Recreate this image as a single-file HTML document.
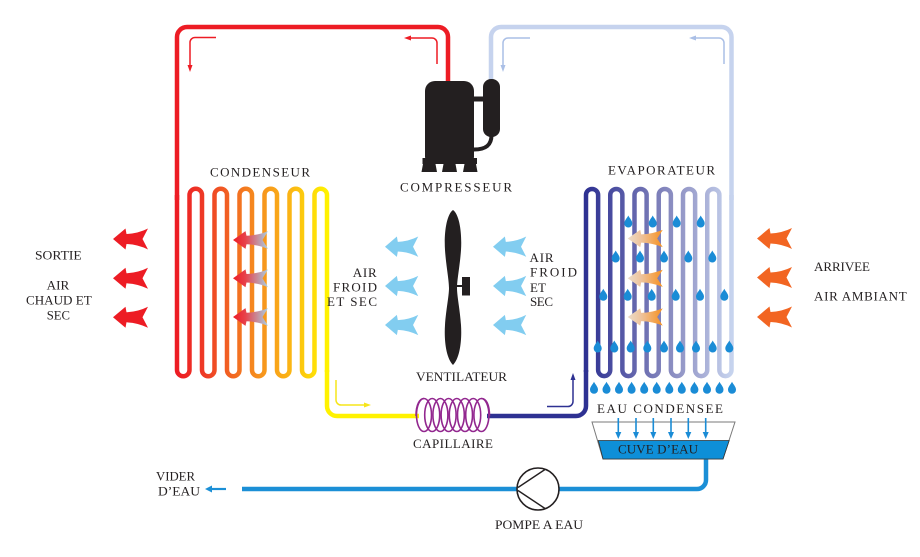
<!DOCTYPE html>
<html>
<head>
<meta charset="utf-8">
<style>
html,body{margin:0;padding:0;background:#fff;}
svg{display:block;}
</style>
</head>
<body>
<svg xmlns="http://www.w3.org/2000/svg" width="920" height="557" viewBox="0 0 920 557" font-family="'Liberation Serif', 'Times New Roman', serif" font-size="13" fill="#231f20">
<defs>
  <linearGradient id="condG" gradientUnits="userSpaceOnUse" x1="177" y1="0" x2="327" y2="0">
    <stop offset="0" stop-color="#ed1c24"/>
    <stop offset="0.18" stop-color="#ee3b26"/>
    <stop offset="0.36" stop-color="#f26522"/>
    <stop offset="0.55" stop-color="#f6921e"/>
    <stop offset="0.75" stop-color="#fbb415"/>
    <stop offset="1" stop-color="#fff200"/>
  </linearGradient>
  <linearGradient id="evapG" gradientUnits="userSpaceOnUse" x1="586" y1="0" x2="731.5" y2="0">
    <stop offset="0" stop-color="#2e3192"/>
    <stop offset="0.2" stop-color="#4d50a2"/>
    <stop offset="0.4" stop-color="#6e70b2"/>
    <stop offset="0.6" stop-color="#8c8fc2"/>
    <stop offset="0.8" stop-color="#a8aed6"/>
    <stop offset="1" stop-color="#c6d3ee"/>
  </linearGradient>
  <linearGradient id="hotArrow" x1="0" y1="0" x2="1" y2="0">
    <stop offset="0" stop-color="#ed1c24"/>
    <stop offset="0.35" stop-color="#e8414a"/>
    <stop offset="1" stop-color="#a9cfe0"/>
  </linearGradient>
  <linearGradient id="warmArrow" x1="0" y1="0" x2="1" y2="0">
    <stop offset="0" stop-color="#ecdcca"/>
    <stop offset="0.4" stop-color="#eec29a"/>
    <stop offset="1" stop-color="#f7901e"/>
  </linearGradient>
  <path id="arr" d="M0,0 L12.5,-10.5 L13.5,-5 Q25,-5.5 35,-10.5 L29.5,0 L35,10.5 Q25,5.5 13.5,5 L12.5,10.5 Z"/>
  <path id="drop" d="M0,-6.5 C1.5,-3.5 4,-1.5 4,1.5 A4,4 0 1 1 -4,1.5 C-4,-1.5 -1.5,-3.5 0,-6.5 Z"/>
</defs>

<!-- Red hot pipe (top-left loop) -->
<path d="M448,83 V37 A10,10 0 0 0 438,27 H187 A10,10 0 0 0 177,37 V200" fill="none" stroke="#ed1c24" stroke-width="4.5"/>
<!-- Light blue pipe (top-right loop) -->
<path d="M491,80 V37 A10,10 0 0 1 501,27 H721.5 A10,10 0 0 1 731.5,37 V200" fill="none" stroke="#c6d3ee" stroke-width="4.5"/>

<!-- Condenser serpentine -->
<path d="M177,195 V370 A6.25,6.25 0 0 0 189.5,370 V195 A6.25,6.25 0 0 1 202,195 V370 A6.25,6.25 0 0 0 214.5,370 V195 A6.25,6.25 0 0 1 227,195 V370 A6.25,6.25 0 0 0 239.5,370 V195 A6.25,6.25 0 0 1 252,195 V370 A6.25,6.25 0 0 0 264.5,370 V195 A6.25,6.25 0 0 1 277,195 V370 A6.25,6.25 0 0 0 289.5,370 V195 A6.25,6.25 0 0 1 302,195 V370 A6.25,6.25 0 0 0 314.5,370 V195 A6.25,6.25 0 0 1 327,195 V372" fill="none" stroke="url(#condG)" stroke-width="4.5"/>
<!-- Yellow pipe to capillary -->
<path d="M327,370 V406 A10,10 0 0 0 337,416 H419" fill="none" stroke="#fff200" stroke-width="4.5"/>

<!-- Evaporator serpentine -->
<path d="M586,372 V195 A6.0625,6.0625 0 0 1 598.125,195 V370 A6.0625,6.0625 0 0 0 610.25,370 V195 A6.0625,6.0625 0 0 1 622.375,195 V370 A6.0625,6.0625 0 0 0 634.5,370 V195 A6.0625,6.0625 0 0 1 646.625,195 V370 A6.0625,6.0625 0 0 0 658.75,370 V195 A6.0625,6.0625 0 0 1 670.875,195 V370 A6.0625,6.0625 0 0 0 683,370 V195 A6.0625,6.0625 0 0 1 695.125,195 V370 A6.0625,6.0625 0 0 0 707.25,370 V195 A6.0625,6.0625 0 0 1 719.375,195 V370 A6.0625,6.0625 0 0 0 731.5,370 V195" fill="none" stroke="url(#evapG)" stroke-width="4.5"/>
<!-- Navy pipe from capillary -->
<path d="M487,416 H576 A10,10 0 0 0 586,406 V370" fill="none" stroke="#2e3192" stroke-width="4.5"/>

<!-- Capillary coil -->
<g fill="none" stroke="#92278f" stroke-width="1.6">
  <path d="M416,416 C416,404 420,398.5 424,398.5"/>
  <ellipse cx="424" cy="415" rx="7.5" ry="16.5"/>
  <ellipse cx="432.2" cy="415" rx="7.5" ry="16.5"/>
  <ellipse cx="440.4" cy="415" rx="7.5" ry="16.5"/>
  <ellipse cx="448.6" cy="415" rx="7.5" ry="16.5"/>
  <ellipse cx="456.8" cy="415" rx="7.5" ry="16.5"/>
  <ellipse cx="465" cy="415" rx="7.5" ry="16.5"/>
  <ellipse cx="473.2" cy="415" rx="7.5" ry="16.5"/>
  <ellipse cx="481.4" cy="415" rx="7.5" ry="16.5"/>
  <path d="M481.4,398.5 C486,398.5 489.5,404 489.5,416"/>
</g>

<!-- Small flow arrows -->
<g fill="none" stroke-width="1.5">
  <path d="M216,37.5 H195 A5,5 0 0 0 190,42.5 V66" stroke="#ed1c24"/>
  <path d="M437,64 V43 A5,5 0 0 0 432,38 H411" stroke="#ed1c24"/>
  <path d="M530,38 H508 A5,5 0 0 0 503,43 V66" stroke="#aabfe6"/>
  <path d="M724,64 V43 A5,5 0 0 0 719,38 H696" stroke="#aabfe6"/>
  <path d="M336,380 V400 A5,5 0 0 0 341,405 H364" stroke="#f6e51a"/>
  <path d="M547,406.5 H568 A5,5 0 0 0 573,401.5 V380" stroke="#2e3192"/>
</g>
<polygon points="187.5,65 192.5,65 190,72" fill="#ed1c24"/>
<polygon points="411,35.5 411,40.5 404,38" fill="#ed1c24"/>
<polygon points="500.5,65 505.5,65 503,72" fill="#aabfe6"/>
<polygon points="696,35.5 696,40.5 689,38" fill="#aabfe6"/>
<polygon points="364,402.5 364,407.5 371,405" fill="#f6e51a"/>
<polygon points="570.5,380 575.5,380 573,373" fill="#2e3192"/>

<!-- Compressor -->
<g fill="#231f20">
  <path d="M425,91 A10,10 0 0 1 435,81 H464 A10,10 0 0 1 474,91 V157 A3,3 0 0 1 471,160 H428 A3,3 0 0 1 425,157 Z"/>
  <rect x="422.5" y="158" width="54.5" height="6"/>
  <polygon points="423,164 435.5,164 437,172 421.5,172"/>
  <polygon points="443.5,164 455.5,164 457,172 442,172"/>
  <polygon points="464.5,164 476,164 477.5,172 463,172"/>
  <rect x="483" y="79" width="17" height="58" rx="8" ry="8"/>
  <rect x="473" y="96.5" width="11" height="5"/>
</g>
<path d="M491.5,135 C491.5,145 486,149.5 474,149.5" fill="none" stroke="#231f20" stroke-width="4"/>

<!-- Fan -->
<path d="M453,210 C460,215 462,235 461,250 C460,265 457,280 457,288 C457,296 460,310 461,325 C462,340 460,358 453,365 C446,358 444,340 445,325 C446,310 449,296 449,288 C449,280 446,265 445,250 C444,235 446,215 453,210 Z" fill="#231f20"/>
<line x1="456" y1="286" x2="463" y2="286" stroke="#231f20" stroke-width="2"/>
<rect x="462" y="277" width="8" height="18.5" fill="#231f20"/>

<!-- Outside red arrows -->
<g fill="#ed1c24">
  <use href="#arr" transform="translate(113,239)"/>
  <use href="#arr" transform="translate(113,278.3)"/>
  <use href="#arr" transform="translate(113,317.3)"/>
</g>
<!-- Outside orange arrows -->
<g fill="#f26522">
  <use href="#arr" transform="translate(757,238.5)"/>
  <use href="#arr" transform="translate(757,277.5)"/>
  <use href="#arr" transform="translate(757,317)"/>
</g>
<!-- Fan light blue arrows -->
<g fill="#82cdf0">
  <use href="#arr" transform="translate(385,246.7) scale(0.95,0.97)"/>
  <use href="#arr" transform="translate(385,286) scale(0.95,0.97)"/>
  <use href="#arr" transform="translate(385,325) scale(0.95,0.97)"/>
  <use href="#arr" transform="translate(493,246.7) scale(0.95,0.97)"/>
  <use href="#arr" transform="translate(493,286) scale(0.95,0.97)"/>
  <use href="#arr" transform="translate(493,325) scale(0.95,0.97)"/>
</g>
<!-- Condenser gradient arrows -->
<g fill="url(#hotArrow)">
  <use href="#arr" transform="translate(233,240) scale(1,0.85)"/>
  <use href="#arr" transform="translate(233,278.3) scale(1,0.85)"/>
  <use href="#arr" transform="translate(233,317) scale(1,0.85)"/>
</g>
<!-- Evaporator gradient arrows -->
<g fill="url(#warmArrow)">
  <use href="#arr" transform="translate(627.7,238.5) scale(1,0.82)"/>
  <use href="#arr" transform="translate(627.7,278.3) scale(1,0.82)"/>
  <use href="#arr" transform="translate(627.7,317) scale(1,0.82)"/>
</g>

<!-- Water drops -->
<g fill="#1a8cd6">
  <use href="#drop" x="628.3" y="222"/>
  <use href="#drop" x="652.7" y="222"/>
  <use href="#drop" x="676.7" y="222"/>
  <use href="#drop" x="700.7" y="222"/>

  <use href="#drop" x="615.7" y="257"/>
  <use href="#drop" x="640" y="257"/>
  <use href="#drop" x="664" y="257"/>
  <use href="#drop" x="688.3" y="257"/>
  <use href="#drop" x="712.3" y="257"/>

  <use href="#drop" x="603.3" y="295.3"/>
  <use href="#drop" x="627.7" y="295.3"/>
  <use href="#drop" x="651.7" y="295.3"/>
  <use href="#drop" x="675.7" y="295.3"/>
  <use href="#drop" x="700" y="295.3"/>
  <use href="#drop" x="724.3" y="295.3"/>

  <use href="#drop" x="597.7" y="347"/>
  <use href="#drop" x="614.3" y="347"/>
  <use href="#drop" x="630.7" y="347"/>
  <use href="#drop" x="647.3" y="347"/>
  <use href="#drop" x="664" y="347"/>
  <use href="#drop" x="680" y="347"/>
  <use href="#drop" x="696" y="347"/>
  <use href="#drop" x="712.7" y="347"/>
  <use href="#drop" x="729.3" y="347"/>

  <use href="#drop" x="594" y="388.3"/>
  <use href="#drop" x="606.5" y="388.3"/>
  <use href="#drop" x="619" y="388.3"/>
  <use href="#drop" x="631.6" y="388.3"/>
  <use href="#drop" x="644.2" y="388.3"/>
  <use href="#drop" x="656.7" y="388.3"/>
  <use href="#drop" x="669.3" y="388.3"/>
  <use href="#drop" x="681.8" y="388.3"/>
  <use href="#drop" x="694.4" y="388.3"/>
  <use href="#drop" x="707" y="388.3"/>
  <use href="#drop" x="719.5" y="388.3"/>
  <use href="#drop" x="732" y="388.3"/>
</g>

<!-- Drain pipe -->
<path d="M706,458 V480 A9,9 0 0 1 697,489 H242" fill="none" stroke="#1b8fd6" stroke-width="4.5"/>

<!-- Water tank -->
<polygon points="592,422 735,422 723,459 603,459" fill="#fff" stroke="#7a7a7a" stroke-width="1"/>
<polygon points="598.3,440.5 729.2,440.5 723,459 603,459" fill="#0e8fd8" stroke="#333" stroke-width="0.8"/>
<g stroke="#1a8cd6" stroke-width="1.6">
  <line x1="618.3" y1="418" x2="618.3" y2="433"/>
  <line x1="636" y1="418" x2="636" y2="433"/>
  <line x1="653.3" y1="418" x2="653.3" y2="433"/>
  <line x1="671" y1="418" x2="671" y2="433"/>
  <line x1="688.3" y1="418" x2="688.3" y2="433"/>
  <line x1="705.7" y1="418" x2="705.7" y2="433"/>
</g>
<g fill="#1a8cd6">
  <polygon points="615.3,432 621.3,432 618.3,439"/>
  <polygon points="633,432 639,432 636,439"/>
  <polygon points="650.3,432 656.3,432 653.3,439"/>
  <polygon points="668,432 674,432 671,439"/>
  <polygon points="685.3,432 691.3,432 688.3,439"/>
  <polygon points="702.7,432 708.7,432 705.7,439"/>
</g>

<!-- Pump -->
<circle cx="538" cy="489" r="21" fill="#fff" stroke="#231f20" stroke-width="1.6"/>
<line x1="518" y1="487.5" x2="545" y2="469.5" stroke="#231f20" stroke-width="1.4"/>
<line x1="518" y1="490.5" x2="545" y2="508.5" stroke="#231f20" stroke-width="1.4"/>

<!-- Vider arrow -->
<line x1="226" y1="489" x2="211" y2="489" stroke="#1b8fd6" stroke-width="2.2"/>
<polygon points="212,485.5 212,492.5 205,489" fill="#1b8fd6"/>

<!-- Labels -->
<text x="210" y="176.5" textLength="100" lengthAdjust="spacing">CONDENSEUR</text>
<text x="400" y="191.5" textLength="112" lengthAdjust="spacing">COMPRESSEUR</text>
<text x="608" y="174.5" textLength="107" lengthAdjust="spacing">EVAPORATEUR</text>
<text x="416" y="381" textLength="91" lengthAdjust="spacingAndGlyphs">VENTILATEUR</text>
<text x="413" y="448" textLength="80" lengthAdjust="spacing">CAPILLAIRE</text>
<text x="597" y="413" textLength="126" lengthAdjust="spacing">EAU CONDENSEE</text>
<text x="618" y="453.5" textLength="80" lengthAdjust="spacing">CUVE D’EAU</text>
<text x="495" y="529" textLength="88" lengthAdjust="spacingAndGlyphs">POMPE A EAU</text>
<text x="156" y="480.5" textLength="39" lengthAdjust="spacingAndGlyphs">VIDER</text>
<text x="158" y="495.5" textLength="42" lengthAdjust="spacingAndGlyphs">D’EAU</text>

<text x="35" y="259.5" textLength="46.7" lengthAdjust="spacingAndGlyphs">SORTIE</text>
<text x="46.7" y="289.5" textLength="22.6" lengthAdjust="spacingAndGlyphs">AIR</text>
<text x="26" y="304.5" textLength="65.7" lengthAdjust="spacingAndGlyphs">CHAUD ET</text>
<text x="46.7" y="319.5" textLength="23.3" lengthAdjust="spacingAndGlyphs">SEC</text>

<text x="814" y="271" textLength="56" lengthAdjust="spacing">ARRIVEE</text>
<text x="814" y="300.5" textLength="92.7" lengthAdjust="spacing">AIR AMBIANT</text>

<text x="352.7" y="277" textLength="24" lengthAdjust="spacing">AIR</text>
<text x="333" y="291.5" textLength="44" lengthAdjust="spacing">FROID</text>
<text x="327" y="306" textLength="50" lengthAdjust="spacing">ET SEC</text>

<text x="529.5" y="262" textLength="24" lengthAdjust="spacing">AIR</text>
<text x="530" y="276.5" textLength="47" lengthAdjust="spacing">FROID</text>
<text x="530" y="292" textLength="16" lengthAdjust="spacing">ET</text>
<text x="530" y="306" textLength="23" lengthAdjust="spacing">SEC</text>
</svg>
</body>
</html>
